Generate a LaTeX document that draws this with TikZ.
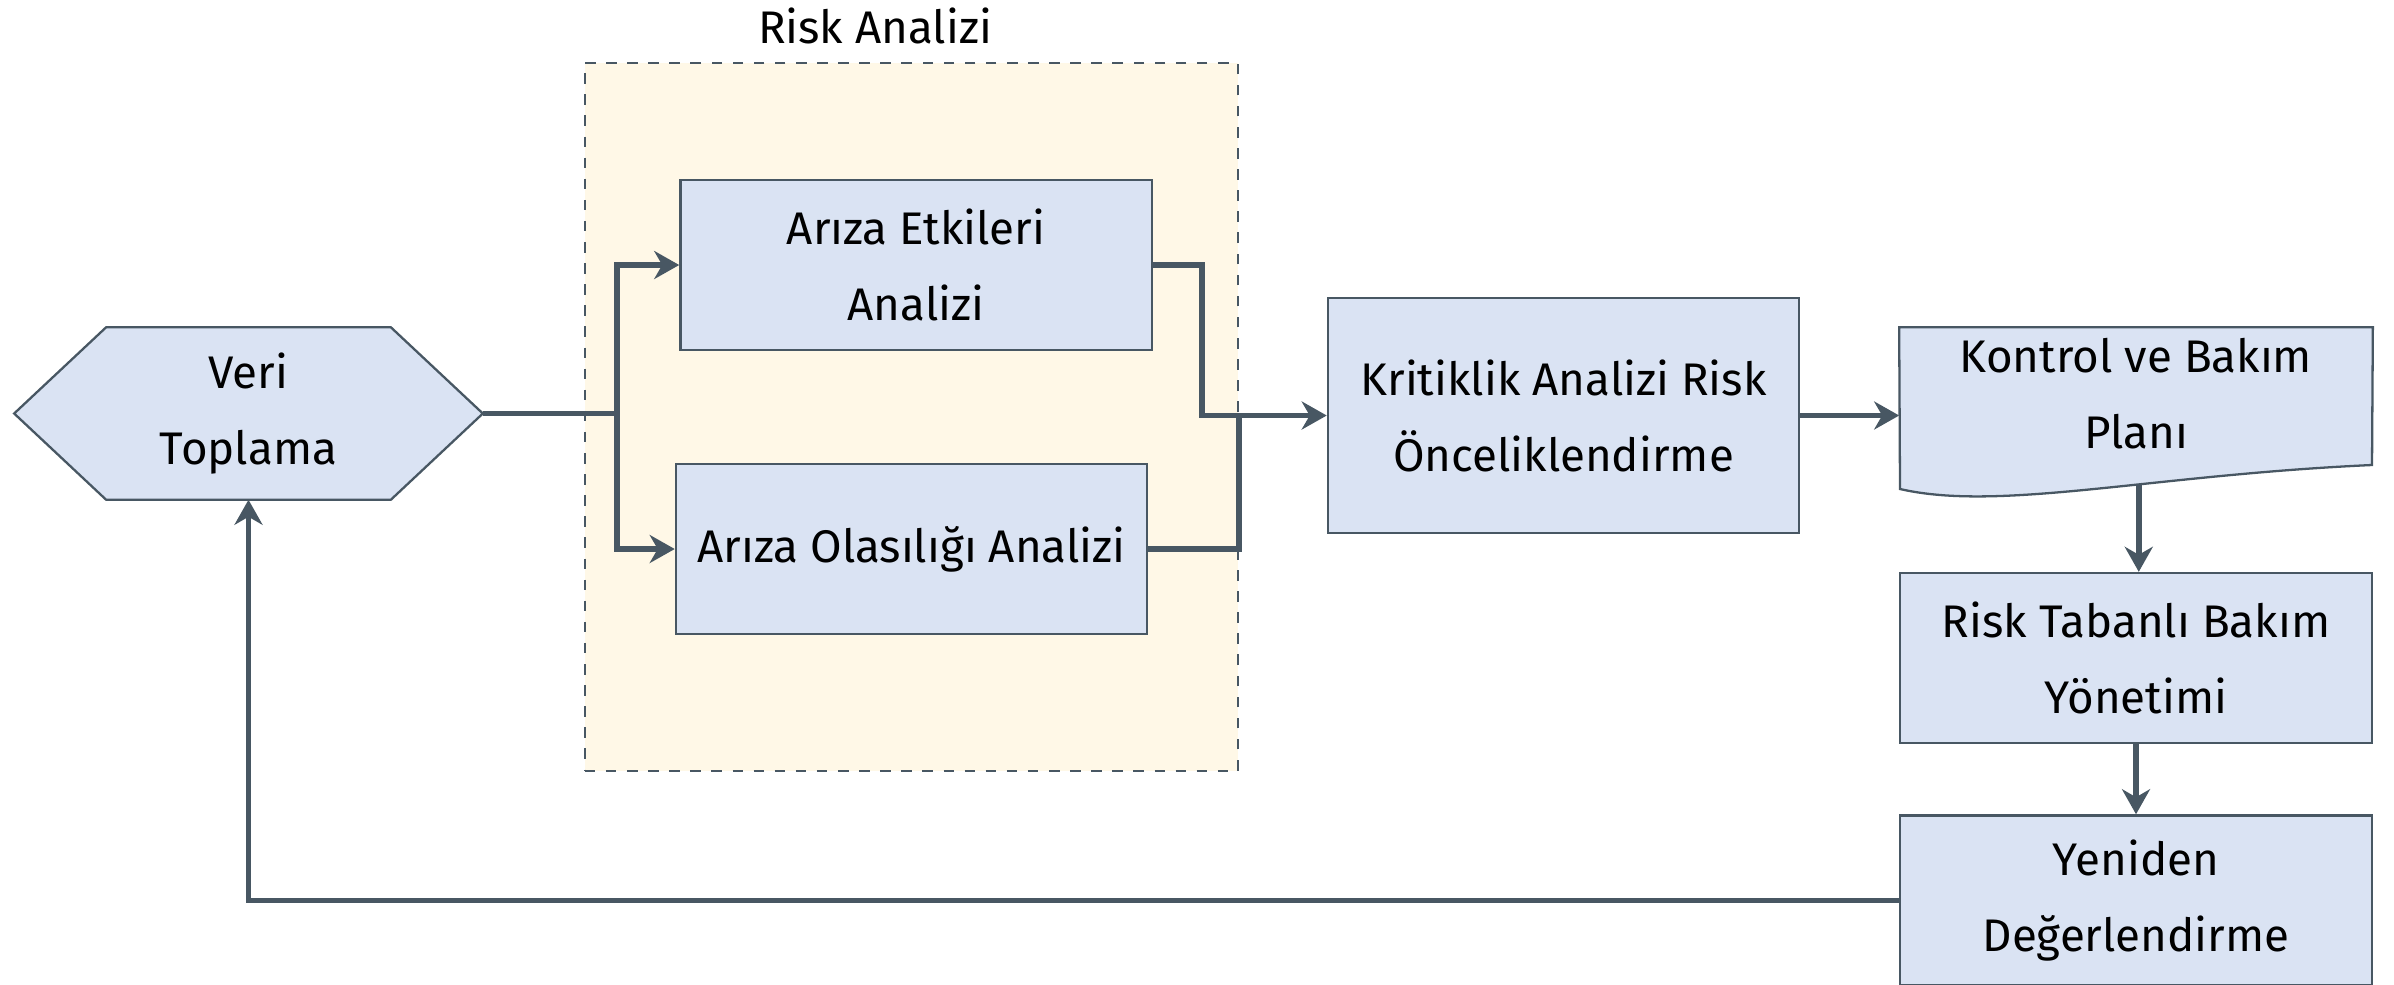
\documentclass[tikz,border=0pt]{standalone}
\usepackage{fontspec}
\setmainfont{Fira Sans}
\usetikzlibrary{arrows.meta, positioning, calc, backgrounds}
\definecolor{boxfill}{RGB}{218,227,243}
\definecolor{edge}{RGB}{72,87,99}
\definecolor{cream}{RGB}{255,248,231}

\begin{document}
\begin{tikzpicture}[
    x=0.01cm, y=-0.01cm,
    font=\fontsize{13}{21.6}\selectfont,
    block/.style={rectangle, draw=edge, line width=0.65pt, fill=boxfill, align=center, minimum width=4.71cm, minimum height=1.7cm, inner sep=2pt},
    bare/.style={rectangle, align=center, inner sep=0pt},
    outline/.style={draw=edge, line width=0.65pt, fill=boxfill},
    riskframe/.style={rectangle, draw=edge, dashed, line width=0.5pt, fill=cream, minimum width=6.53cm, minimum height=7.08cm},
    link/.style={draw=edge, line width=1.6pt},
    flow/.style={link, -{Stealth[length=0.25cm, width=0.28cm, inset=0.08cm]}}
]
\useasboundingbox (0,0) rectangle (2394,984);

\node[riskframe] (riskbox) at (911.5,417) {};
\node (risklabel) at (875,26) {Risk Analizi};

\node[bare, minimum width=4.67cm, minimum height=1.71cm] (veri) at (248.5,413.5) {Veri\\Toplama};
\node[block] (etki) at (916,265) {Arıza Etkileri\\Analizi};
\node[block] (olas) at (911.5,549) {Arıza Olasılığı Analizi};
\node[block, minimum height=2.35cm] (krit) at (1563.5,415.5) {Kritiklik Analizi Risk\\Önceliklendirme};
\node[bare, minimum width=4.72cm, minimum height=1.32cm] (plan) at (2136,394) {Kontrol ve Bakım\\Planı};
\node[block, minimum width=4.72cm, below=1.11cm of plan] (risktab) {Risk Tabanlı Bakım\\Yönetimi};
\node[block, minimum width=4.72cm, below=0.7cm of risktab] (yeniden) {Yeniden\\Değerlendirme};

% shapes behind the text
\begin{scope}[on background layer]
  \draw[outline] (veri.west) -- ($(veri.north west)+(92,0)$) -- ($(veri.north east)+(-92,0)$) -- (veri.east)
    -- ($(veri.south east)+(-92,0)$) -- ($(veri.south west)+(92,0)$) -- cycle;
  \draw[outline] (plan.north west) -- (plan.north east) -- (2372,465)
    .. controls (2150,475) and (2000,512) .. (1900,489) coordinate[pos=0.4] (planfoot) -- cycle;
\end{scope}

% connectors
\coordinate (split) at (617,413.5);
\coordinate (merge) at (1202,415.5);
\draw[link] (veri.east) -- (split);
\draw[flow] (split) |- (etki.west);
\draw[flow] (split) |- (olas.west);
\draw[flow] (etki.east) -| (merge) -- (krit.west);
\draw[link] (olas.east) -| (krit.west -| riskbox.east);
\draw[flow] (krit.east) -- (krit.east -| plan.west);
\draw[flow] (planfoot) -- (planfoot |- risktab.north);
\draw[flow] (risktab.south) -- (yeniden.north);
\draw[flow] (yeniden.west) -| (veri.south);

\end{tikzpicture}
\end{document}
